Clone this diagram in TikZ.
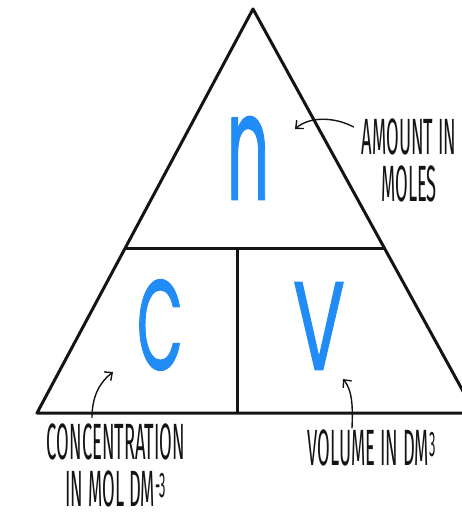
\documentclass[tikz,border=0pt]{standalone}
\usepackage{fontspec}
\usepackage{graphicx}
\newfontfamily\handfont[FakeStretch=0.36]{Fira Sans}
\newfontfamily\letterfont[FakeBold=1.2]{Poppins}
\definecolor{triblue}{RGB}{33,140,245}
\definecolor{inkblack}{RGB}{20,20,20}
\usetikzlibrary{arrows.meta}
\tikzset{
  edge/.style={draw=inkblack,line width=3pt,line join=round},
  note/.style={font=\handfont\fontsize{51}{47}\selectfont,text=inkblack,align=center,inner sep=0pt,text depth=0pt},
  bigletter/.style={text=triblue,inner sep=0pt},
  pointer/.style={draw=inkblack,line width=1.4pt,line cap=round,-{Straight Barb[length=6pt,width=11pt,line width=1.4pt]}}
}

\begin{document}
\begin{tikzpicture}[x=1pt,y=-1pt]
  \useasboundingbox (0,0) rectangle (462,513);
  % triangle
  \coordinate (apex) at (253,9);
  \coordinate (left) at (37,413);
  \coordinate (right) at (475,413);
  \coordinate (midL) at (125,248);
  \coordinate (midR) at (384,248);
  \coordinate (midC) at (237,248);
  \coordinate (baseC) at (237,413);
  \draw[edge] (apex) -- (left) -- (right) -- cycle;
  \draw[edge] (midL) -- (midR);
  \draw[edge] (midC) -- (baseC);
  % letters
  \node[bigletter] (n) at (248,158) {\resizebox{43pt}{83pt}{\letterfont n}};
  \node[bigletter] (c) at (160,325) {\resizebox{46pt}{90pt}{\letterfont C}};
  \node[bigletter] (v) at (319,326) {\resizebox{52pt}{87pt}{\letterfont V}};
  % labels
  \node[note] (amount) at (409,160) {AMOUNT IN\\MOLES};
  \node[note] (conc) at (116,465) {CONCENTRATION\\IN MOL DM\textsuperscript{-3}};
  \node[note] (vol) at (372,448) {VOLUME IN DM\textsuperscript{3}};
  % pointers
  \coordinate (amountTip) at (295,129);
  \coordinate (concTip) at (113,372);
  \coordinate (volTip) at (343,379);
  \draw[pointer] (amount.west |- 0,127) ++(-8,0) .. controls (335,117) and (310,116) .. (amountTip);
  \draw[pointer] (conc.north -| 92,0) ++(0,-6) .. controls (92,396) and (100,382) .. (concTip);
  \draw[pointer] (vol.north -| 352,0) ++(0,-2) .. controls (353,405) and (352,390) .. (volTip);
\end{tikzpicture}
\end{document}
